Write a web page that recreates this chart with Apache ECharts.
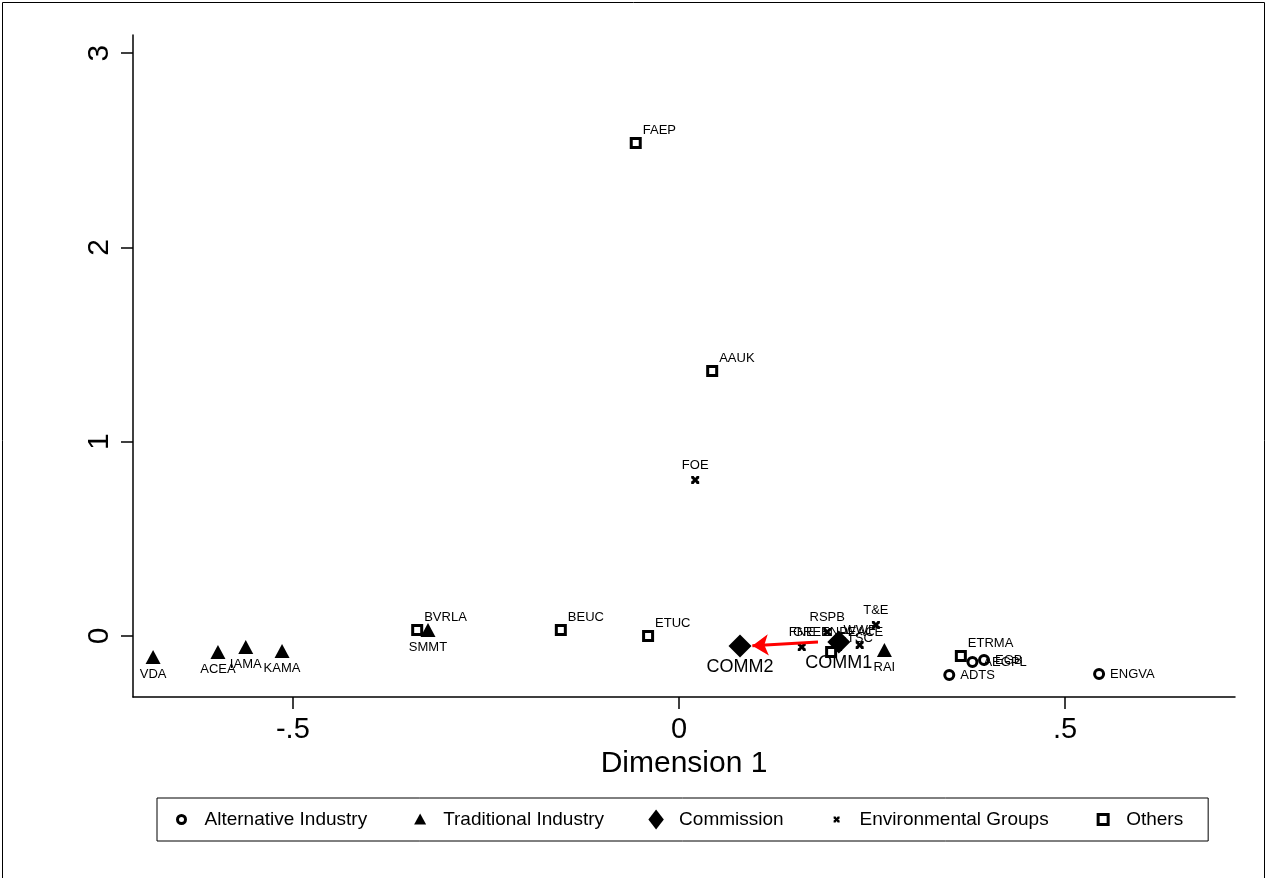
<!DOCTYPE html>
<html>
<head>
<meta charset="UTF-8">
<title>Dimension 1 map</title>
<script type="text/javascript" src="https://cdn.jsdelivr.net/npm/echarts@6/dist/echarts.min.js"></script>
<style>
  html, body { margin: 0; padding: 0; background: #fff; }
</style>
</head>
<body>
    <div id="main" style="width: 1267px;height:878px;"></div>
    <script type="text/javascript">
    // groups and their points (Dimension 1, Dimension 2)
    var altNames = ['ADTS', 'AEGPL', 'EGB', 'ENGVA'];
    var altX = [0.350, 0.380, 0.395, 0.544];
    var altY = [-0.201, -0.134, -0.124, -0.196];

    var tradNames = ['VDA', 'ACEA', 'IAMA', 'KAMA', 'SMMT', 'RAI'];
    var tradX = [-0.681, -0.597, -0.561, -0.514, -0.325, 0.266];
    var tradY = [-0.108, -0.082, -0.057, -0.077, 0.031, -0.072];

    var commNames = ['COMM1', 'COMM2'];
    var commX = [0.207, 0.079];
    var commY = [-0.031, -0.051];

    var envNames = ['FOE', 'FNE', 'RSPB', 'GREENPEACE', 'WWF', 'T&E'];
    var envX = [0.021, 0.159, 0.192, 0.206, 0.234, 0.255];
    var envY = [0.803, -0.057, 0.021, -0.057, -0.046, 0.057];

    var othNames = ['FAEP', 'AAUK', 'BVRLA', 'BEUC', 'ETUC', 'ETRMA', 'ETSC'];
    var othX = [-0.056, 0.043, -0.339, -0.153, -0.040, 0.365, 0.197];
    var othY = [2.537, 1.364, 0.031, 0.031, 0.000, -0.103, -0.082];

    // arrow COMM1 -> COMM2
    var arrowFrom = [0.180, -0.031];
    var arrowTo = [0.095, -0.050];

    var xTicks = [-0.5, 0, 0.5];
    var yTicks = [0, 1, 2, 3];

    var FONT = '"Liberation Sans", Arial, sans-serif';

    function pts(names, xs, ys) {
        return names.map(function (n, i) { return { name: n, value: [xs[i], ys[i]] }; });
    }

    // marker shapes
    var xMark = 'path://M0,0L3,0L5,2.5L7,0L10,0L10,3L7.5,5L10,7L10,10L7,10L5,7.5L3,10L0,10L0,7L2.5,5L0,3Z';
    // legend icons padded into a 20x20 box (the move points set the bounds)
    var lgCircle = 'path://M0,0M20,20M14,10A4,4,0,1,1,6,10A4,4,0,1,1,14,10Z';
    var lgTri = 'path://M0,0M20,20M10,4L16,15L4,15Z';
    var lgDiamond = 'path://M0,0M20,20M10,-1L18.5,10L10,21L1.5,10Z';
    var lgX = 'path://M0,0M20,20M7,7L9,7L10,8.5L11,7L13,7L13,9L11.5,10L13,11L13,13L11,13L10,11.5L9,13L7,13L7,11L8.5,10L7,9Z';
    var lgSquare = 'path://M0,0M20,20M5,5L15,5L15,15L5,15Z';

    var myChart = echarts.init(document.getElementById('main'));
    var option = {
        animation: false,
        backgroundColor: '#fff',
        textStyle: { fontFamily: FONT, color: '#000' },
        graphic: [{
            type: 'rect',
            shape: { x: 2.5, y: 2.5, width: 1262, height: 900 },
            style: { fill: 'none', stroke: '#000', lineWidth: 1 },
            silent: true
        }],
        grid: { left: 133, top: 35, width: 1102, height: 662 },
        legend: {
            left: 157,
            top: 798,
            orient: 'horizontal',
            padding: [10, 25, 10, 13],
            itemGap: 43,
            itemWidth: 36,
            itemHeight: 20,
            borderColor: '#000',
            borderWidth: 1,
            textStyle: { fontFamily: FONT, fontSize: 19, color: '#000' },
            data: [
                { name: 'Alternative Industry', icon: lgCircle, itemStyle: { color: '#fff', borderColor: '#000', borderWidth: 3 } },
                { name: 'Traditional Industry', icon: lgTri, itemStyle: { color: '#000', borderWidth: 0 } },
                { name: 'Commission', icon: lgDiamond, itemStyle: { color: '#000', borderWidth: 0 } },
                { name: 'Environmental Groups', icon: lgX, itemStyle: { color: '#000', borderWidth: 0 } },
                { name: 'Others', icon: lgSquare, itemStyle: { color: '#fff', borderColor: '#000', borderWidth: 3 } }
            ]
        },
        xAxis: {
            type: 'value',
            min: -0.707,
            max: 0.720,
            name: 'Dimension 1',
            nameLocation: 'middle',
            nameGap: 44,
            nameTextStyle: { fontFamily: FONT, fontSize: 30, color: '#000' },
            splitLine: { show: false },
            axisLine: { show: true, onZero: false, lineStyle: { color: '#000', width: 1.5 } },
            axisTick: { show: true, length: 12, customValues: xTicks, lineStyle: { color: '#000', width: 1.5 } },
            axisLabel: {
                customValues: xTicks,
                margin: 18,
                fontSize: 29,
                color: '#000',
                fontFamily: FONT,
                formatter: function (v) { return v === 0 ? '0' : String(v).replace('0.', '.'); }
            }
        },
        yAxis: {
            type: 'value',
            min: -0.314,
            max: 3.093,
            splitLine: { show: false },
            axisLine: { show: true, onZero: false, lineStyle: { color: '#000', width: 1.5 } },
            axisTick: { show: true, length: 12, customValues: yTicks, lineStyle: { color: '#000', width: 1.5 } },
            axisLabel: {
                customValues: yTicks,
                rotate: 90,
                margin: 18,
                fontSize: 30,
                color: '#000',
                fontFamily: FONT
            }
        },
        series: [
            {
                name: 'Alternative Industry',
                type: 'scatter',
                symbol: 'circle',
                symbolSize: 9,
                itemStyle: { color: '#fff', borderColor: '#000', borderWidth: 3, opacity: 1 },
                label: { show: true, position: 'right', distance: 5, formatter: '{b}', fontSize: 13, color: '#000', fontFamily: FONT },
                data: pts(altNames, altX, altY)
            },
            {
                name: 'Traditional Industry',
                type: 'scatter',
                symbol: 'triangle',
                symbolSize: [15, 14],
                itemStyle: { color: '#000', opacity: 1 },
                label: { show: true, position: 'bottom', distance: 4, formatter: '{b}', fontSize: 13, color: '#000', fontFamily: FONT },
                data: pts(tradNames, tradX, tradY)
            },
            {
                name: 'Environmental Groups',
                type: 'scatter',
                symbol: xMark,
                symbolSize: 8,
                itemStyle: { color: '#000', opacity: 1 },
                label: { show: true, position: 'top', distance: 4, formatter: '{b}', fontSize: 13, color: '#000', fontFamily: FONT },
                data: pts(envNames, envX, envY)
            },
            {
                name: 'Commission',
                type: 'scatter',
                symbol: 'diamond',
                symbolSize: 23,
                itemStyle: { color: '#000', opacity: 1 },
                label: { show: true, position: 'bottom', distance: 1, formatter: '{b}', fontSize: 18, color: '#000', fontFamily: FONT },
                data: pts(commNames, commX, commY)
            },
            {
                name: 'Others',
                type: 'scatter',
                symbol: 'rect',
                symbolSize: 9,
                itemStyle: { color: '#fff', borderColor: '#000', borderWidth: 3, opacity: 1 },
                label: { show: true, position: 'right', distance: 1, offset: [0, -13], formatter: '{b}', fontSize: 13, color: '#000', fontFamily: FONT },
                data: pts(othNames, othX, othY)
            },
            {
                name: 'arrow',
                type: 'lines',
                coordinateSystem: 'cartesian2d',
                symbol: ['none', 'arrow'],
                symbolSize: 16,
                lineStyle: { color: '#f00', width: 3, opacity: 1 },
                z: 3,
                data: [{ coords: [arrowFrom, arrowTo] }]
            }
        ]
    };
    myChart.setOption(option);
    </script>
</body>
</html>
